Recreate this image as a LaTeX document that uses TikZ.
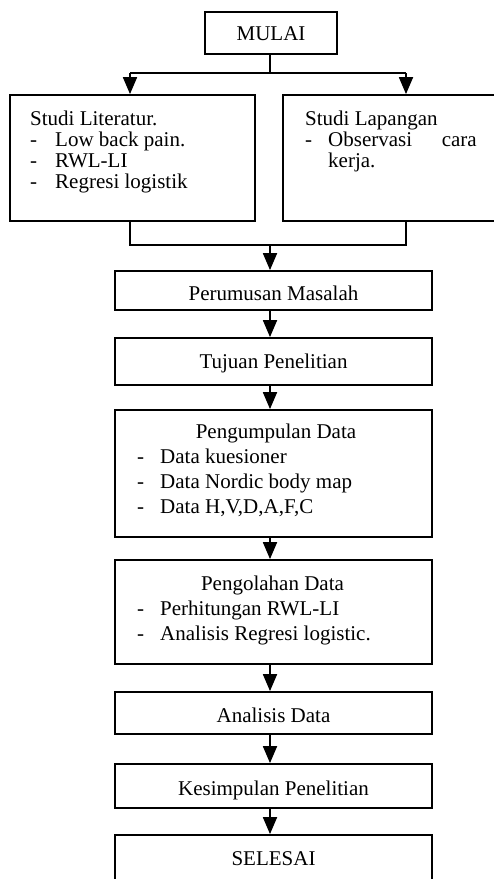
\documentclass[tikz,border=0pt]{standalone}
\usepackage{fontspec}
\setmainfont{Liberation Serif}
\usetikzlibrary{arrows.meta}
\begin{document}
\begin{tikzpicture}[x=1pt,y=-1pt,
  box/.style={draw,line width=1.8pt,inner sep=0pt,minimum width=317pt},
  txt/.style={inner sep=0pt,font=\fontsize{21}{25}\selectfont},
  ln/.style={line width=1.8pt,line join=miter},
  arr/.style={ln,-{Triangle[length=17pt,width=14pt]}}
]
\useasboundingbox (0,0) rectangle (494,879);
\clip (0,0) rectangle (494,879);
% boxes
\node[box,minimum width=132pt,minimum height=42pt] (mulai) at (271,33) {};
\node[box,minimum width=245pt,minimum height=126pt] (lit) at (132.5,158) {};
\node[box,minimum width=237pt,minimum height=126pt] (lap) at (401.5,158) {};
\node[box,minimum height=39pt] (perum) at (273.5,290.5) {};
\node[box,minimum height=47pt] (tujuan) at (273.5,361.5) {};
\node[box,minimum height=127pt] (kumpul) at (273.5,473.5) {};
\node[box,minimum height=104pt] (olah) at (273.5,612) {};
\node[box,minimum height=42pt] (anal) at (273.5,713) {};
\node[box,minimum height=44pt] (simpul) at (273.5,786) {};
\node[box,minimum height=47pt] (selesai) at (273.5,858.5) {};
% texts
\node[txt,anchor=base] (tmulai) at (271,40) {MULAI};
\node[txt,anchor=base west] (tlit) at (30,125) {Studi Literatur.};
\node[txt,anchor=base west] (dl1) at (30,146) {-};
\node[txt,anchor=base west] (dl2) at (30,167) {-};
\node[txt,anchor=base west] (dl3) at (30,188) {-};
\node[txt,anchor=base west] (il1) at (55,146) {Low back pain.};
\node[txt,anchor=base west] (il2) at (55,167) {RWL-LI};
\node[txt,anchor=base west] (il3) at (55,188) {Regresi logistik};
\node[txt,anchor=base west] (tlap) at (305,125) {Studi Lapangan};
\node[txt,anchor=base west] (dp1) at (305,146) {-};
\node[txt,anchor=base west] (ip1a) at (328,146) {Observasi};
\node[txt,anchor=base east] (ip1b) at (477,146) {cara};
\node[txt,anchor=base west] (ip1c) at (328,167) {kerja.};
\node[txt,anchor=base] (tperum) at (273.5,300) {Perumusan Masalah};
\node[txt,anchor=base] (ttujuan) at (273.5,368) {Tujuan Penelitian};
\node[txt,anchor=base] (tkumpul) at (276,438) {Pengumpulan Data};
\node[txt,anchor=base west] (dk1) at (137,463) {-};
\node[txt,anchor=base west] (dk2) at (137,488) {-};
\node[txt,anchor=base west] (dk3) at (137,513) {-};
\node[txt,anchor=base west] (ik1) at (160,463) {Data kuesioner};
\node[txt,anchor=base west] (ik2) at (160,488) {Data Nordic body map};
\node[txt,anchor=base west] (ik3) at (160,513) {Data H,V,D,A,F,C};
\node[txt,anchor=base] (tolah) at (272.5,590) {Pengolahan Data};
\node[txt,anchor=base west] (do1) at (137,615) {-};
\node[txt,anchor=base west] (do2) at (137,640) {-};
\node[txt,anchor=base west] (io1) at (160,615) {Perhitungan RWL-LI};
\node[txt,anchor=base west] (io2) at (160,640) {Analisis Regresi logistic.};
\node[txt,anchor=base] (tanal) at (273.5,722) {Analisis Data};
\node[txt,anchor=base] (tsimpul) at (273.5,795) {Kesimpulan Penelitian};
\node[txt,anchor=base] (tselesai) at (273.5,865) {SELESAI};
% connectors
\coordinate (split) at (270,73);
\coordinate (merge) at (270,245);
\coordinate (lx) at (130,0);
\coordinate (rx) at (406,0);
\draw[ln] (mulai.south -| split) -- (split);
\draw[ln] (split -| lx) -- (split -| rx);
\draw[arr] (split -| lx) -- (lit.north -| lx);
\draw[arr] (split -| rx) -- (lap.north -| rx);
\draw[ln] (lit.south -| lx) |- (merge);
\draw[ln] (lap.south -| rx) |- (merge);
\draw[arr] (merge) -- (perum.north -| merge);
\draw[arr] (perum.south -| merge) -- (tujuan.north -| merge);
\draw[arr] (tujuan.south -| merge) -- (kumpul.north -| merge);
\draw[arr] (kumpul.south -| merge) -- (olah.north -| merge);
\draw[arr] (olah.south -| merge) -- (anal.north -| merge);
\draw[arr] (anal.south -| merge) -- (simpul.north -| merge);
\draw[arr] (simpul.south -| merge) -- (selesai.north -| merge);
\end{tikzpicture}
\end{document}
